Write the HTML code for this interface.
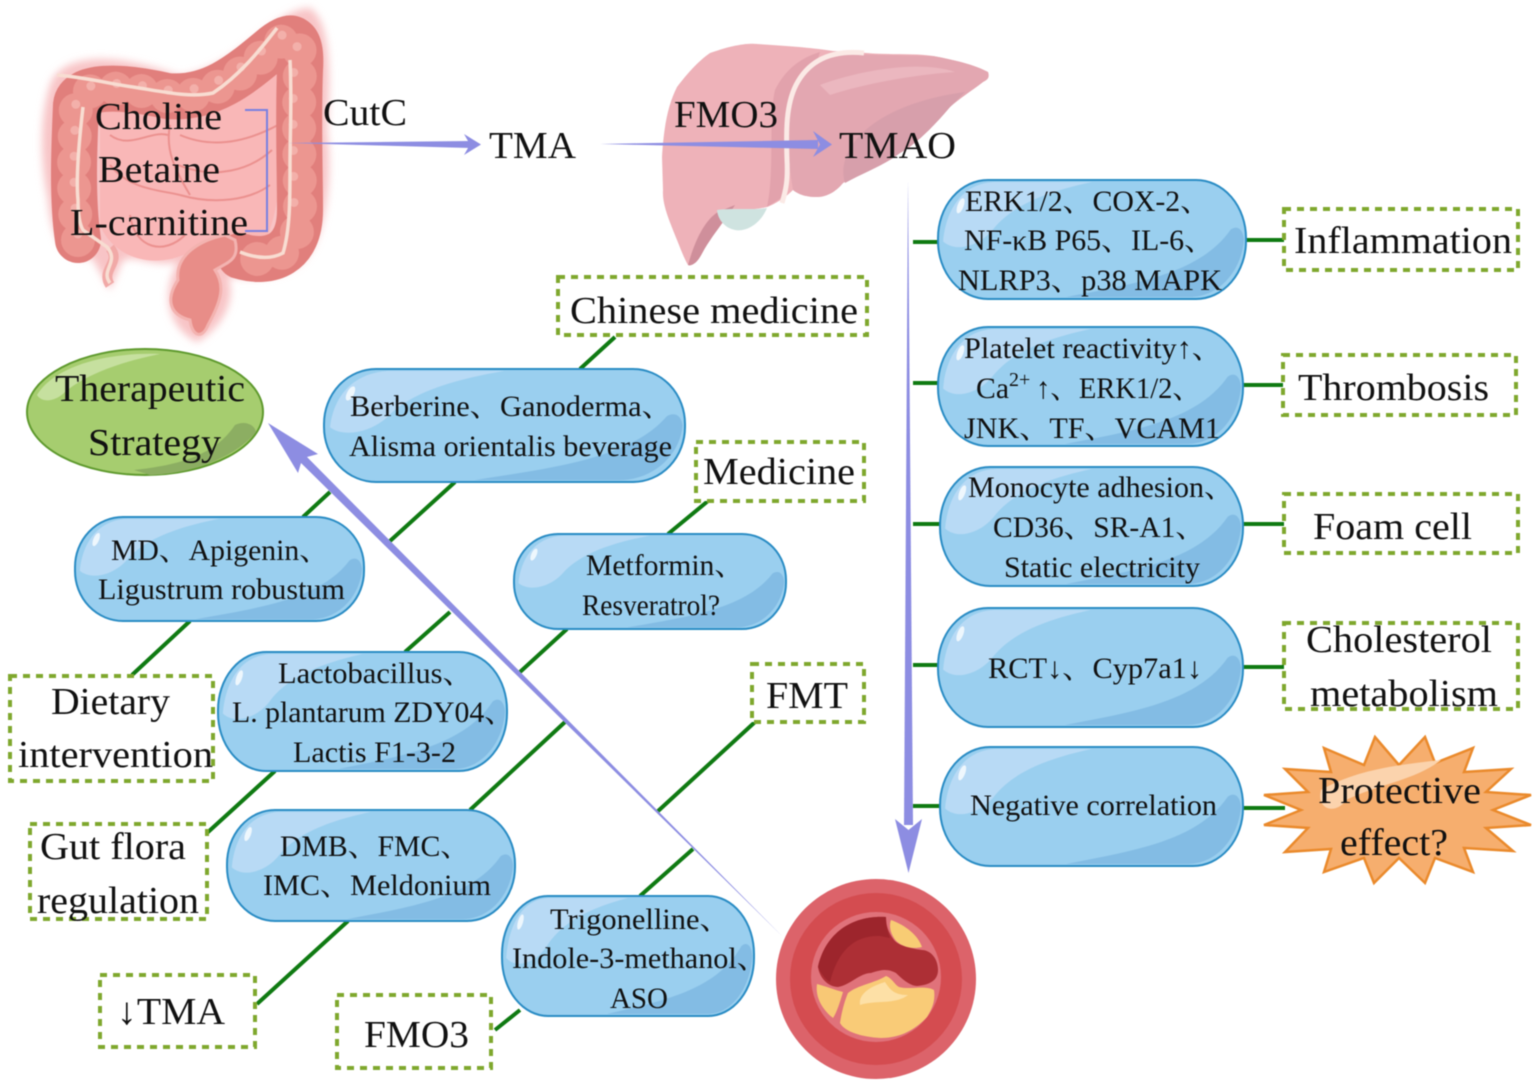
<!DOCTYPE html>
<html><head><meta charset="utf-8"><style>
html,body{margin:0;padding:0;background:#fff}
svg{display:block;filter:blur(.4px)}
text{font-family:"Liberation Serif","Noto Serif CJK SC",serif;fill:#111}
.b{font-size:38px}.p{font-size:30px}
</style></head><body>
<svg xmlns="http://www.w3.org/2000/svg" width="1536" height="1088" viewBox="0 0 1536 1088">
<defs>
<filter id="bl" x="-10%" y="-10%" width="120%" height="120%"><feGaussianBlur stdDeviation="4"/></filter>
<filter id="bl2" x="-10%" y="-10%" width="120%" height="120%"><feGaussianBlur stdDeviation="7"/></filter>
<symbol id="gloss" viewBox="0 0 300 120" preserveAspectRatio="none">
<path d="M5,62 C8,28 25,3 55,2 L150,2 C95,14 70,30 55,48 C42,66 18,74 5,62Z" fill="#b8daf5"/>
<path d="M125,118 C190,105 255,95 285,50 C292,45 297,50 298,60 C296,90 275,118 245,118Z" fill="#83bce4"/>
<ellipse cx="22" cy="26" rx="3" ry="8" transform="rotate(20 22 26)" fill="#eef7fd"/>
</symbol>
</defs>

<!-- Intestine -->
<path d="M50,85 C60,55 110,50 180,76 C240,66 275,8 310,8 C328,20 332,60 327,130 C334,190 322,245 302,262 C280,282 245,278 228,277 C238,305 216,332 197,342 C172,330 158,300 178,262 C150,268 132,252 122,262 L110,290 L92,258 C68,262 52,245 48,200 C38,150 42,110 50,85Z" fill="#f8c4c6" filter="url(#bl)"/>
<path d="M100,100 C150,100 205,105 280,60 C285,120 285,190 268,235 C225,250 205,250 190,252 C150,272 112,255 100,225Z" fill="#f9b7b7"/>
<g fill="none" stroke="#eb918f" stroke-width="2">
<path d="M180,135 C215,150 250,140 278,125"/><path d="M178,165 C215,180 250,170 272,150"/><path d="M180,195 C215,205 250,200 270,185"/><path d="M110,135 C130,150 150,130 168,135"/><path d="M110,165 C130,190 160,190 180,195"/><path d="M130,215 C135,250 165,255 185,235"/><path d="M170,125 C165,150 175,170 190,195"/>
</g>
<path d="M110,248 C122,262 100,270 110,285" fill="none" stroke="#f1a9a7" stroke-width="10"/>
<path d="M78,240 C72,200 74,150 76,105 C78,85 120,85 167,96 C210,100 240,75 270,50 C295,28 302,40 300,70 C298,120 300,170 300,210 C300,255 270,265 240,256" fill="none" stroke="#e17f7c" stroke-width="46" stroke-linecap="round"/>
<path d="M78,240 C72,200 74,150 76,105 C78,85 120,85 167,96 C210,100 240,75 270,50 C295,28 302,40 300,70 C298,120 300,170 300,210 C300,255 270,265 240,256" fill="none" stroke="#ec9690" stroke-width="34" stroke-linecap="round" stroke-dasharray="0 26"/>
<path d="M78,234 C72,200 74,150 76,100 C78,80 120,80 167,90 C210,94 240,69 270,44 C295,22 302,34 294,64 C292,120 294,170 294,204" fill="none" stroke="#f3b0aa" stroke-width="9" stroke-linecap="round" stroke-dasharray="0 26"/>
<path d="M83,107 C78,150 76,180 78,200 C78,215 80,225 83,230 L107,247 C120,262 100,270 110,283 M57,75 C90,78 110,84 133,87 C165,92 190,98 213,93 C240,75 260,50 277,28 M290,60 C292,100 290,130 290,167 C290,200 290,230 283,253 C270,260 255,258 240,252" fill="none" stroke="#f8ddd2" stroke-width="3.5"/>
<path d="M225,235 C200,240 175,255 178,280 C165,300 170,315 190,320 C192,336 202,340 208,325 C222,300 225,285 215,270 C228,262 240,260 235,240Z" fill="#e88d88" stroke="#f3b3b0" stroke-width="3"/>

<!-- Liver -->
<path d="M662,157 C664,125 668,105 677,87 C690,70 700,60 710,53 C735,44 750,43 757,44 C790,46 815,48 833,51 L867,53 C890,55 915,53 933,56 C955,60 975,65 988,72 C990,78 987,80 983,82 C970,92 960,98 950,107 C935,125 915,145 900,153 C880,165 860,172 843,183 C835,193 825,197 817,197 C805,197 798,194 793,190 C785,198 775,204 767,207 C745,212 730,208 717,217 C710,235 706,248 700,257 C695,265 690,266 688,265 C684,258 681,250 677,240 C670,222 662,205 663,190Z" fill="#eeb2b9"/>
<path d="M775,90 C785,70 800,58 820,52 L790,150 L786,195 L767,207 C775,170 768,120 775,90Z" fill="#e2a2ac"/>
<path d="M786,110 C800,75 815,58 840,54 L933,56 C955,60 975,65 988,72 C990,78 987,80 983,82 C970,92 960,98 950,107 C935,125 915,145 900,153 C880,165 860,172 843,183 C835,193 825,197 817,197 C805,197 798,194 793,190 C787,150 783,130 786,110Z" fill="#e3a7b1"/>
<path d="M845,183 C835,150 870,105 965,92 L950,107 C935,125 915,145 900,153 C885,165 865,172 845,183Z" fill="#d79fab"/>
<path d="M820,85 C860,70 920,60 955,72 C910,75 860,85 830,95Z" fill="#ebb7bf"/>
<path d="M688,265 C695,240 705,220 718,212 L735,205 C722,225 712,235 700,257 C695,265 690,266 688,265Z" fill="#cf8f9b"/>
<path d="M717,210 C730,208 755,210 767,208 C760,225 745,232 735,230 C725,228 718,220 717,210Z" fill="#cfe3e0"/>
<path d="M864,53 C835,50 810,58 796,85 C786,105 786,130 787,160 C788,180 786,190 782,203" fill="none" stroke="#fbeae6" stroke-width="5"/>

<!-- Green connectors -->
<g stroke="#0f7a12" stroke-width="4" fill="none">
<path d="M615,337 L580,369 M455,482 L390,541"/>
<path d="M330,492 L303,517 M190,621 L132,675"/>
<path d="M708,501 L668,534 M567,629 L520,672"/>
<path d="M450,612 L405,652 M275,771 L207,833"/>
<path d="M565,722 L470,810 M348,921 L257,1004"/>
<path d="M755,722 L657,812"/>
<path d="M693,849 L640,896 M520,1010 L495,1030"/>
<path d="M913,242 H940 M1244,240 H1285 M913,383 H940 M1241,385 H1283 M913,524 H942 M1241,524 H1284 M913,665 H940 M1241,667 H1284 M913,806 H942 M1241,808 H1285"/>
</g>

<!-- Pills -->
<g fill="#9acfef" stroke="#2a8cc4" stroke-width="2">
<rect x="938" y="180" width="308" height="119" rx="50" ry="58"/>
<rect x="938" y="327" width="305" height="119" rx="50" ry="58"/>
<rect x="940" y="467" width="303" height="119" rx="50" ry="58"/>
<rect x="938" y="608" width="305" height="119" rx="50" ry="58"/>
<rect x="940" y="747" width="303" height="119" rx="50" ry="58"/>
<rect x="324" y="369" width="361" height="113" rx="52" ry="55"/>
<rect x="75" y="517" width="289" height="104" rx="48" ry="50"/>
<rect x="514" y="534" width="272" height="95" rx="44" ry="46"/>
<rect x="218" y="652" width="289" height="119" rx="48" ry="58"/>
<rect x="227" y="810" width="288" height="111" rx="48" ry="54"/>
<rect x="502" y="896" width="252" height="120" rx="46" ry="58"/>
</g>
<g>
<use href="#gloss" x="938" y="180" width="308" height="119"/>
<use href="#gloss" x="938" y="327" width="305" height="119"/>
<use href="#gloss" x="940" y="467" width="303" height="119"/>
<use href="#gloss" x="938" y="608" width="305" height="119"/>
<use href="#gloss" x="940" y="747" width="303" height="119"/>
<use href="#gloss" x="324" y="369" width="361" height="113"/>
<use href="#gloss" x="75" y="517" width="289" height="104"/>
<use href="#gloss" x="514" y="534" width="272" height="95"/>
<use href="#gloss" x="218" y="652" width="289" height="119"/>
<use href="#gloss" x="227" y="810" width="288" height="111"/>
<use href="#gloss" x="502" y="896" width="252" height="120"/>
</g>

<!-- Dashed boxes -->
<g fill="#fff" stroke="#7fa82e" stroke-width="4" stroke-dasharray="7 6">
<rect x="1284" y="209" width="234" height="61"/>
<rect x="1283" y="355" width="233" height="60"/>
<rect x="1284" y="494" width="234" height="59"/>
<rect x="1284" y="623" width="234" height="86"/>
<rect x="558" y="277" width="309" height="58"/>
<rect x="696" y="442" width="168" height="59"/>
<rect x="752" y="664" width="112" height="58"/>
<rect x="10" y="676" width="203" height="105"/>
<rect x="30" y="824" width="177" height="95"/>
<rect x="100" y="975" width="155" height="72"/>
<rect x="337" y="995" width="154" height="73"/>
</g>

<!-- Therapeutic ellipse -->
<ellipse cx="145" cy="412" rx="118" ry="63" fill="#a6cd6f" stroke="#5f9a2e" stroke-width="2"/>
<path d="M37,395 C55,365 110,352 160,354 C120,362 85,375 65,392 C55,402 42,403 37,395Z" fill="#c6e09f"/>
<path d="M134,470 C180,465 215,455 235,425 C245,420 255,425 256,432 C235,458 190,474 150,475Z" fill="#8cae62"/>

<!-- Starburst -->
<g transform="translate(-4,0)">
<polygon points="1379,737 1403,765 1429,737 1439,763 1477,748 1468,772 1515,769 1490,792 1535,795 1497,810 1535,825 1490,828 1517,851 1468,848 1477,872 1439,858 1429,883 1403,858 1378,883 1368,858 1328,872 1335,849 1289,852 1312,828 1268,825 1305,810 1268,795 1312,792 1289,769 1335,772 1328,748 1368,765" fill="#f6ae6e" stroke="#ea8a2c" stroke-width="2.5"/>
<path d="M1325,790 C1360,770 1400,765 1445,760 C1420,780 1380,785 1350,800 C1340,815 1320,810 1325,790Z" fill="#fbd3ad"/>
</g>

<!-- Artery -->
<circle cx="876" cy="979" r="100" fill="#dc636a"/>
<circle cx="876" cy="979" r="86" fill="#d44c50"/>
<circle cx="876" cy="977" r="65" fill="#e0727a"/>
<path d="M886,917 C850,915 825,935 818,967 C820,980 830,987 838,987 C850,985 860,973 871,973 C885,968 890,970 896,973 C905,982 912,986 917,986 C930,985 938,980 938,970 C938,958 930,950 922,950 C908,948 898,945 894,940 C888,932 886,925 886,917Z" fill="#ad2f35"/>
<path d="M886,917 C850,915 825,935 818,967 C822,975 826,980 830,982 C838,950 855,935 880,936 L890,938 C887,930 886,925 886,917Z" fill="#9d252c"/>
<path d="M891,920 C905,925 918,935 922,947 C910,950 898,945 894,938 C890,932 889,925 891,920Z" fill="#f8cc74"/>
<path d="M817,984 C825,986 835,990 843,992 C840,1002 837,1012 833,1018 C823,1010 815,998 817,984Z" fill="#f8c875"/>
<path d="M886,976 C892,978 895,985 899,987 C910,990 925,985 934,990 C936,1003 930,1012 927,1017 C915,1030 900,1038 881,1038 C862,1037 845,1032 840,1023 C842,1010 845,1000 848,993 C858,985 875,983 886,976Z" fill="#f9cb77"/>
<path d="M860,1005 C858,992 875,985 885,982 C890,990 895,995 908,995 C895,1005 875,1000 860,1005Z" fill="#fde0a6"/>

<!-- Purple arrows -->
<g fill="#8d8de2">
<path d="M288,143 L470,141 L470,148 Z"/>
<path d="M464,134 L481,144.500 L464,155 L470,144.500Z"/>
<path d="M600,144 L818,140 L818,149 Z"/>
<path d="M813,131 L832,144.500 L813,157 L820,144.500Z"/>
<path d="M908,180 L904,825 L913,825 Z"/>
<path d="M895,819 L908.500,830 L922,819 L908.500,873Z"/>
<path d="M268,423 L318,454 L307,457 L782,936 L301,463 L298,473Z"/>
</g>
<path d="M245,110 H267 V231 H245" fill="none" stroke="#7a80e0" stroke-width="2"/>

<!-- Top labels -->
<g class="b">
<text class="b" x="95" y="129" textLength="127" lengthAdjust="spacingAndGlyphs">Choline</text>
<text class="b" x="98" y="182" textLength="122" lengthAdjust="spacingAndGlyphs">Betaine</text>
<text class="b" x="70" y="235" textLength="178" lengthAdjust="spacingAndGlyphs">L-carnitine</text>
<text class="b" x="323" y="125" textLength="84" lengthAdjust="spacingAndGlyphs">CutC</text>
<text class="b" x="489" y="158" textLength="87" lengthAdjust="spacingAndGlyphs">TMA</text>
<text class="b" x="674" y="127" textLength="104" lengthAdjust="spacingAndGlyphs">FMO3</text>
<text class="b" x="839" y="158" textLength="117" lengthAdjust="spacingAndGlyphs">TMAO</text>
<text class="b" x="570" y="323" textLength="288" lengthAdjust="spacingAndGlyphs">Chinese medicine</text>
<text class="b" x="55" y="401" textLength="190" lengthAdjust="spacingAndGlyphs">Therapeutic</text>
<text class="b" x="88" y="455" textLength="133" lengthAdjust="spacingAndGlyphs">Strategy</text>
<text class="b" x="703" y="484" textLength="152" lengthAdjust="spacingAndGlyphs">Medicine</text>
<text class="b" x="766" y="708" textLength="82" lengthAdjust="spacingAndGlyphs">FMT</text>
<text class="b" x="51" y="714" textLength="119" lengthAdjust="spacingAndGlyphs">Dietary</text>
<text class="b" x="18" y="767" textLength="195" lengthAdjust="spacingAndGlyphs">intervention</text>
<text class="b" x="40" y="859" textLength="146" lengthAdjust="spacingAndGlyphs">Gut flora</text>
<text class="b" x="37" y="913" textLength="162" lengthAdjust="spacingAndGlyphs">regulation</text>
<text class="b" x="117" y="1024" textLength="108" lengthAdjust="spacingAndGlyphs">↓TMA</text>
<text class="b" x="364" y="1047" textLength="105" lengthAdjust="spacingAndGlyphs">FMO3</text>
<text class="b" x="1294" y="253" textLength="218" lengthAdjust="spacingAndGlyphs">Inflammation</text>
<text class="b" x="1298" y="400" textLength="191" lengthAdjust="spacingAndGlyphs">Thrombosis</text>
<text class="b" x="1313" y="539" textLength="159" lengthAdjust="spacingAndGlyphs">Foam cell</text>
<text class="b" x="1306" y="652" textLength="186" lengthAdjust="spacingAndGlyphs">Cholesterol</text>
<text class="b" x="1310" y="706" textLength="188" lengthAdjust="spacingAndGlyphs">metabolism</text>
<text class="b" x="1318" y="803" textLength="163" lengthAdjust="spacingAndGlyphs">Protective</text>
<text class="b" x="1340" y="855" textLength="108" lengthAdjust="spacingAndGlyphs">effect?</text>
</g>

<!-- Pill labels -->
<g>
<text class="p" x="965" y="211" textLength="245" lengthAdjust="spacingAndGlyphs">ERK1/2、COX-2、</text>
<text class="p" x="964" y="250" textLength="250" lengthAdjust="spacingAndGlyphs">NF-κB P65、IL-6、</text>
<text class="p" x="958" y="290" textLength="264" lengthAdjust="spacingAndGlyphs">NLRP3、p38 MAPK</text>
<text class="p" x="964" y="358" textLength="258" lengthAdjust="spacingAndGlyphs">Platelet reactivity↑、</text>
<text class="p" x="976" y="398" textLength="33" lengthAdjust="spacingAndGlyphs">Ca</text>
<text x="1009" y="386" style="font-size:20px">2+</text>
<text class="p" x="1036" y="398" textLength="165" lengthAdjust="spacingAndGlyphs">↑、ERK1/2、</text>
<text class="p" x="964" y="438" textLength="256" lengthAdjust="spacingAndGlyphs">JNK、TF、VCAM1</text>
<text class="p" x="968" y="497" textLength="266" lengthAdjust="spacingAndGlyphs">Monocyte adhesion、</text>
<text class="p" x="993" y="537" textLength="212" lengthAdjust="spacingAndGlyphs">CD36、SR-A1、</text>
<text class="p" x="1004" y="577" textLength="196" lengthAdjust="spacingAndGlyphs">Static electricity</text>
<text class="p" x="988" y="678" textLength="214" lengthAdjust="spacingAndGlyphs">RCT↓、Cyp7a1↓</text>
<text class="p" x="970" y="815" textLength="247" lengthAdjust="spacingAndGlyphs">Negative correlation</text>
<text class="p" x="350" y="416" textLength="322" lengthAdjust="spacingAndGlyphs">Berberine、Ganoderma、</text>
<text class="p" x="349" y="456" textLength="323" lengthAdjust="spacingAndGlyphs">Alisma orientalis beverage</text>
<text class="p" x="111" y="560" textLength="218" lengthAdjust="spacingAndGlyphs">MD、Apigenin、</text>
<text class="p" x="98" y="599" textLength="247" lengthAdjust="spacingAndGlyphs">Ligustrum robustum</text>
<text class="p" x="586" y="575" textLength="158" lengthAdjust="spacingAndGlyphs">Metformin、</text>
<text class="p" x="582" y="615" textLength="138" lengthAdjust="spacingAndGlyphs">Resveratrol?</text>
<text class="p" x="278" y="683" textLength="195" lengthAdjust="spacingAndGlyphs">Lactobacillus、</text>
<text class="p" x="232" y="722" textLength="282" lengthAdjust="spacingAndGlyphs">L. plantarum ZDY04、</text>
<text class="p" x="293" y="762" textLength="163" lengthAdjust="spacingAndGlyphs">Lactis F1-3-2</text>
<text class="p" x="280" y="856" textLength="190" lengthAdjust="spacingAndGlyphs">DMB、FMC、</text>
<text class="p" x="263" y="895" textLength="228" lengthAdjust="spacingAndGlyphs">IMC、Meldonium</text>
<text class="p" x="550" y="929" textLength="180" lengthAdjust="spacingAndGlyphs">Trigonelline、</text>
<text class="p" x="512" y="968" textLength="255" lengthAdjust="spacingAndGlyphs">Indole-3-methanol、</text>
<text class="p" x="610" y="1008" textLength="58" lengthAdjust="spacingAndGlyphs">ASO</text>
</g>
</svg>
</body></html>
